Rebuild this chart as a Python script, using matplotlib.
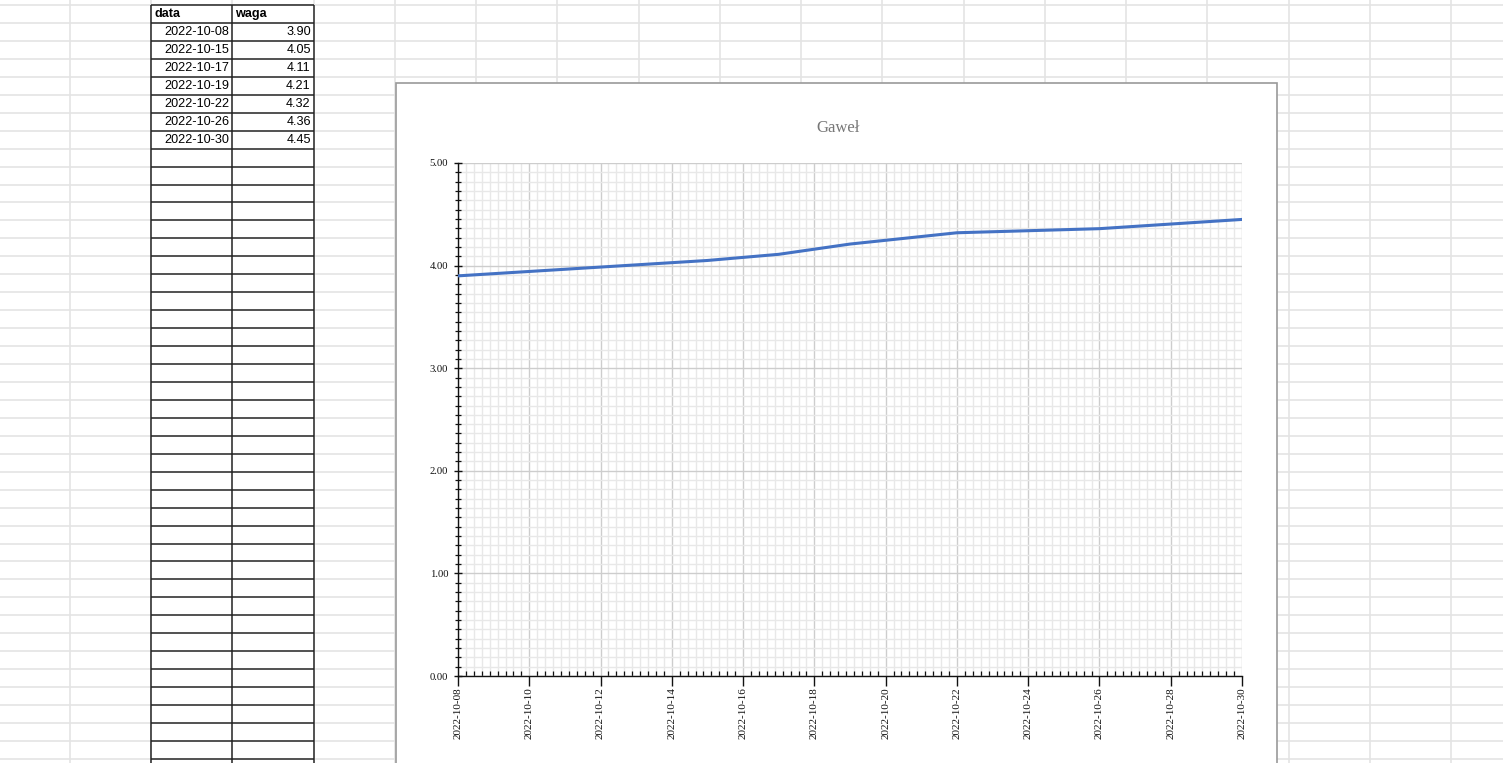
import numpy as np
import matplotlib
matplotlib.use("Agg")
import matplotlib.pyplot as plt
import matplotlib.dates as mdates
from matplotlib.patches import Rectangle

# data from the sheet
dates = np.array(["2022-10-08", "2022-10-15", "2022-10-17", "2022-10-19",
                  "2022-10-22", "2022-10-26", "2022-10-30"], dtype="datetime64[D]")
waga = [3.90, 4.05, 4.11, 4.21, 4.32, 4.36, 4.45]
headers = ["data", "waga"]
title = "Gaweł"

W, H = 1503, 763
fig = plt.figure(figsize=(W / 100, H / 100), dpi=100)

# spreadsheet background, pixel coordinates
bg = fig.add_axes([0, 0, 1, 1])
bg.set_xlim(0, W)
bg.set_ylim(H, 0)
bg.axis("off")

row_h = 17.95
col_w = 81.24
rows_y = 5 + row_h * np.arange(43)
cols_x = 70 + col_w * np.arange(18)
bg.hlines(rows_y, 0, W, color="#e4e4e4", lw=1.2, zorder=1)
bg.vlines(cols_x, 0, H, color="#e4e4e4", lw=1.2, zorder=1)

# table with borders
tl, tm, tr = cols_x[1], cols_x[2], cols_x[3]
bg.fill_between([tl, tr], rows_y[0], H, color="white", zorder=1.5)
bg.hlines(rows_y, tl, tr, color="#222222", lw=1.1, zorder=2)
bg.vlines([tl, tm, tr], rows_y[0], H, color="#222222", lw=1.1, zorder=2)

tfont = dict(family="Liberation Sans", fontsize=9.1, va="center", zorder=3)
bg.text(tl + 3, rows_y[0] + row_h / 2, headers[0], ha="left", weight="bold", **tfont)
bg.text(tm + 3, rows_y[0] + row_h / 2, headers[1], ha="left", weight="bold", **tfont)
for i, (d, w) in enumerate(zip(dates, waga)):
    yc = rows_y[i + 1] + row_h / 2 + 0.5
    bg.text(tm - 3, yc, str(d), ha="right", **tfont)
    bg.text(tr - 3, yc, "%.2f" % w, ha="right", **tfont)

# chart frame
bg.add_patch(Rectangle((396, 83), 881, 720, fc="white", ec="#9a9a9a", lw=1.2, zorder=3))
bg.text(838, 128, title, ha="center", va="center", family="Liberation Serif",
        fontsize=12, color="#777777", zorder=4)

# chart
ax = fig.add_axes([458 / W, (H - 676) / H, (1242 - 458) / W, (676 - 163) / H])
ax.set_zorder(5)
x = mdates.date2num(dates.astype("datetime64[s]").astype(object))
ax.plot(x, waga, color="#4472c4", lw=2.2, zorder=5, solid_capstyle="round")

ax.set_xlim(x[0], x[-1])
ax.set_ylim(0, 5)
ax.set_xticks(np.arange(x[0], x[-1] + 0.5, 2))
ax.set_xticks(np.arange(x[0], x[-1], 2 / 9), minor=True)
ax.set_yticks(np.arange(0, 5.5, 1))
ax.set_yticks(np.arange(0, 5, 1 / 11), minor=True)
ax.xaxis.set_major_formatter(mdates.DateFormatter("%Y-%m-%d"))
ax.yaxis.set_major_formatter(matplotlib.ticker.FormatStrFormatter("%.2f"))

ax.grid(which="major", color="#cdcdcd", lw=1.0)
ax.grid(which="minor", color="#e8e8e8", lw=1.0)
ax.set_axisbelow(True)

for s in ["top", "right"]:
    ax.spines[s].set_visible(False)
for s in ["left", "bottom"]:
    ax.spines[s].set_color("#111111")
    ax.spines[s].set_linewidth(1.0)

ax.tick_params(axis="y", which="major", direction="inout", length=6, width=1,
               labelsize=7.7, pad=4, colors="#111111")
ax.tick_params(axis="y", which="minor", direction="inout", length=4, width=0.9,
               colors="#111111")
ax.tick_params(axis="x", which="major", direction="out", length=7, width=1,
               labelsize=8, pad=1, labelrotation=90, colors="#111111")
ax.tick_params(axis="x", which="minor", direction="in", length=3.6, width=0.9,
               colors="#111111")
for lab in ax.get_xticklabels() + ax.get_yticklabels():
    lab.set_family("Liberation Serif")

fig.savefig("out.png", dpi=100)
